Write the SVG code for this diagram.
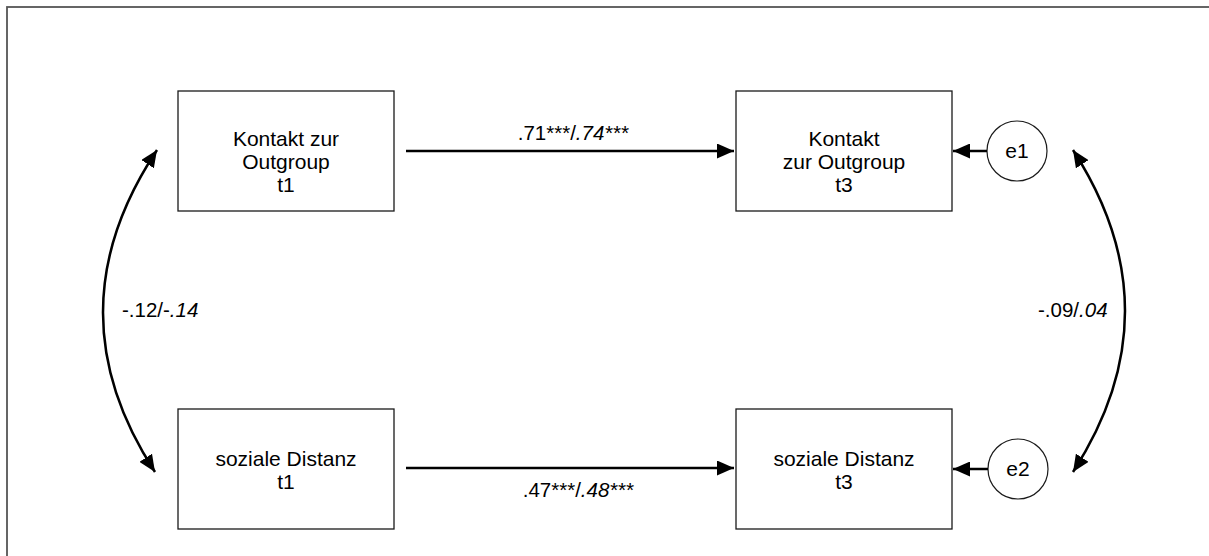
<svg xmlns="http://www.w3.org/2000/svg" width="1209" height="556" viewBox="0 0 1209 556">
<defs>
<marker id="ah" markerUnits="userSpaceOnUse" markerWidth="18" markerHeight="15" refX="17" refY="7.5" orient="auto-start-reverse">
<path d="M0,0 L17,7.5 L0,15 z" fill="#000"/>
</marker>
<style>
.box{fill:#fff;stroke:#1a1a1a;stroke-width:1.3}
.err{fill:#fff;stroke:#1a1a1a;stroke-width:1.2}
.t{font-family:"Liberation Sans",Arial,sans-serif;font-size:21px;fill:#000;text-anchor:middle}
.lbl{font-family:"Liberation Sans",Arial,sans-serif;font-size:20.5px;fill:#000}
.lc{text-anchor:middle}
.it{font-style:italic}
.c{fill:none;stroke:#000;stroke-width:2.5}
</style>
</defs>
<rect x="7" y="7" width="1220" height="570" fill="none" stroke="#555" stroke-width="1.8"/>
<g id="kontakt_t1">
<rect class="box" x="178" y="91" width="216" height="120"/>
<text class="t" x="286" y="146">Kontakt zur</text>
<text class="t" x="286" y="169">Outgroup</text>
<text class="t" x="286" y="192">t1</text>
</g>
<g id="kontakt_t3">
<rect class="box" x="736" y="91" width="216" height="120"/>
<text class="t" x="844" y="146">Kontakt</text>
<text class="t" x="844" y="169">zur Outgroup</text>
<text class="t" x="844" y="192">t3</text>
</g>
<g id="distanz_t1">
<rect class="box" x="178" y="409" width="216" height="120"/>
<text class="t" x="286" y="466">soziale Distanz</text>
<text class="t" x="286" y="489">t1</text>
</g>
<g id="distanz_t3">
<rect class="box" x="736" y="409" width="216" height="120"/>
<text class="t" x="844" y="466">soziale Distanz</text>
<text class="t" x="844" y="489">t3</text>
</g>
<g id="e1">
<circle class="err" cx="1017" cy="151" r="30"/>
<text class="t" x="1017" y="158">e1</text>
</g>
<g id="e2">
<circle class="err" cx="1018" cy="469" r="30"/>
<text class="t" x="1018" y="476">e2</text>
</g>
<g id="connectors">
<line class="c" x1="406" y1="151" x2="734" y2="151" marker-end="url(#ah)"/>
<line class="c" x1="406" y1="468" x2="734" y2="468" marker-end="url(#ah)"/>
<line class="c" x1="987" y1="151" x2="953" y2="151" marker-end="url(#ah)"/>
<line class="c" x1="988" y1="469" x2="953" y2="469" marker-end="url(#ah)"/>
<path class="c" d="M157,150 Q50,311 155,472" marker-start="url(#ah)" marker-end="url(#ah)"/>
<path class="c" d="M1073,150 Q1177,311 1073,472" marker-start="url(#ah)" marker-end="url(#ah)"/>
</g>
<g id="labels">
<text class="lbl lc" x="573" y="140">.71***/<tspan class="it">.74***</tspan></text>
<text class="lbl lc" x="578" y="497">.47***/<tspan class="it">.48***</tspan></text>
<text class="lbl" x="122" y="317">-.12/-<tspan class="it">.14</tspan></text>
<text class="lbl" x="1038" y="317">-.09/<tspan class="it">.04</tspan></text>
</g>
</svg>
